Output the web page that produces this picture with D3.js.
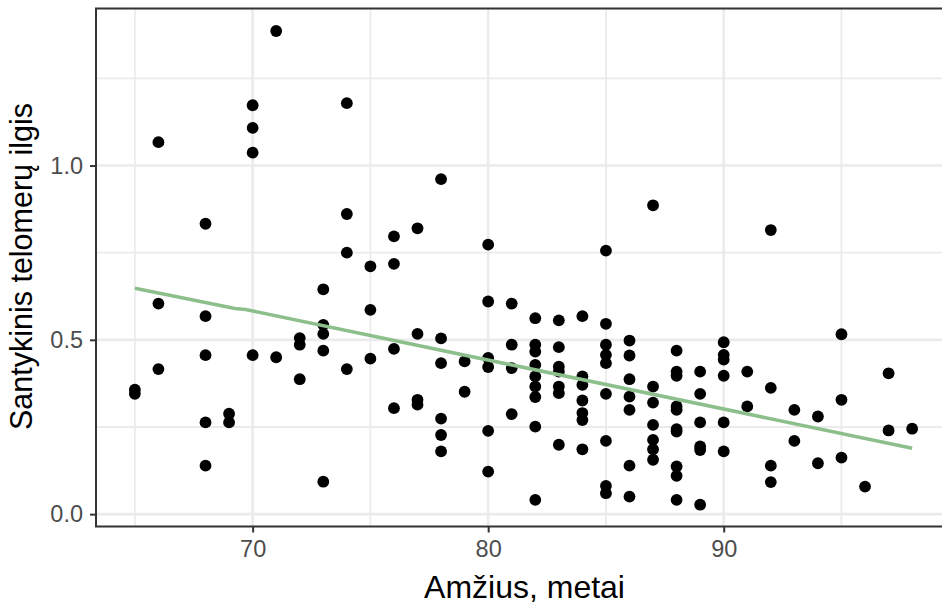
<!DOCTYPE html>
<html>
<head>
<meta charset="utf-8">
<script src="https://cdn.jsdelivr.net/npm/d3@7"></script>
<style>
  html, body { margin: 0; padding: 0; background: #fff; }
  svg { display: block; }
</style>
</head>
<body>
<svg id="chart" width="942" height="606"></svg>
<script>
// ---- data ----
const ages = [65, 66, 68, 69, 70, 71, 72, 73, 74, 75, 76, 77, 78, 79, 80, 81, 82, 83, 84, 85, 86, 87, 88, 89, 90, 91, 92, 93, 94, 95, 96, 97, 98];
const lengthsByAge = [
  [0.357, 0.345],
  [1.067, 0.604, 0.416],
  [0.833, 0.568, 0.456, 0.263, 0.139],
  [0.288, 0.263],
  [1.173, 1.108, 1.037, 0.456],
  [1.386, 0.450],
  [0.505, 0.486, 0.387],
  [0.645, 0.543, 0.517, 0.469, 0.093],
  [1.179, 0.861, 0.750, 0.416],
  [0.711, 0.586, 0.446],
  [0.797, 0.718, 0.474, 0.304],
  [0.820, 0.517, 0.328, 0.314],
  [0.961, 0.504, 0.433, 0.274, 0.227, 0.180],
  [0.438, 0.351],
  [0.773, 0.610, 0.448, 0.422, 0.239, 0.122],
  [0.604, 0.486, 0.419, 0.287],
  [0.562, 0.486, 0.466, 0.428, 0.395, 0.366, 0.336, 0.251, 0.041],
  [0.556, 0.479, 0.423, 0.409, 0.366, 0.347, 0.199],
  [0.568, 0.395, 0.371, 0.326, 0.290, 0.270, 0.186],
  [0.756, 0.546, 0.486, 0.457, 0.433, 0.345, 0.210, 0.081, 0.060],
  [0.498, 0.455, 0.387, 0.337, 0.299, 0.139, 0.050],
  [0.886, 0.366, 0.320, 0.256, 0.213, 0.186, 0.156],
  [0.469, 0.409, 0.397, 0.309, 0.299, 0.244, 0.237, 0.137, 0.110, 0.041],
  [0.409, 0.345, 0.263, 0.194, 0.184, 0.027],
  [0.493, 0.457, 0.443, 0.397, 0.263, 0.180],
  [0.409, 0.309],
  [0.815, 0.362, 0.139, 0.092],
  [0.299, 0.210],
  [0.280, 0.146],
  [0.516, 0.328, 0.162],
  [0.079],
  [0.404, 0.240],
  [0.245]
];
const smoothAge = [65, 69.25, 69.7, 98];
const smoothVal = [0.648, 0.590, 0.587, 0.189];
const xMajorTicks = [70, 80, 90];
const xMinorTicks = [65, 75, 85, 95];
const yMajorTicks = [0.0, 0.5, 1.0];
const yMinorTicks = [0.25, 0.75, 1.25];
const xTitle = "Amžius, metai";
const yTitle = "Santykinis telomerų ilgis";

// ---- layout ----
const panel = { left: 96, right: 951, top: 8.5, bottom: 526.5 };
const x = d3.scaleLinear().domain([63.35, 99.65]).range([panel.left, panel.right]);
const y = d3.scaleLinear().domain([-0.0355, 1.4505]).range([panel.bottom, panel.top]);

const points = [];
ages.forEach((a, i) => lengthsByAge[i].forEach(v => points.push({ age: a, val: v })));
const smooth = smoothAge.map((a, i) => ({ age: a, val: smoothVal[i] }));

const svg = d3.select("#chart");
svg.append("rect").attr("width", 942).attr("height", 606).attr("fill", "#fff");

svg.append("defs").append("clipPath").attr("id", "clip")
  .append("rect").attr("x", panel.left).attr("y", panel.top)
  .attr("width", panel.right - panel.left).attr("height", panel.bottom - panel.top);

const g = svg.append("g").attr("clip-path", "url(#clip)");

// grid
g.selectAll(".xminor").data(xMinorTicks).join("line")
  .attr("x1", d => x(d)).attr("x2", d => x(d)).attr("y1", panel.top).attr("y2", panel.bottom)
  .attr("stroke", "#ebebeb").attr("stroke-width", 1.8);
g.selectAll(".yminor").data(yMinorTicks).join("line")
  .attr("y1", d => y(d)).attr("y2", d => y(d)).attr("x1", panel.left).attr("x2", panel.right)
  .attr("stroke", "#ebebeb").attr("stroke-width", 1.8);
g.selectAll(".xmajor").data(xMajorTicks).join("line")
  .attr("x1", d => x(d)).attr("x2", d => x(d)).attr("y1", panel.top).attr("y2", panel.bottom)
  .attr("stroke", "#ebebeb").attr("stroke-width", 2.6);
g.selectAll(".ymajor").data(yMajorTicks).join("line")
  .attr("y1", d => y(d)).attr("y2", d => y(d)).attr("x1", panel.left).attr("x2", panel.right)
  .attr("stroke", "#ebebeb").attr("stroke-width", 2.6);

// points
g.selectAll("circle").data(points).join("circle")
  .attr("cx", d => x(d.age)).attr("cy", d => y(d.val)).attr("r", 5.9)
  .attr("fill", "#000");

// smooth line
g.append("path").datum(smooth)
  .attr("d", d3.line().x(d => x(d.age)).y(d => y(d.val)))
  .attr("fill", "none").attr("stroke", "#8cbf8c").attr("stroke-width", 3.6);

// panel border
svg.append("rect").attr("x", panel.left).attr("y", panel.top)
  .attr("width", panel.right - panel.left).attr("height", panel.bottom - panel.top)
  .attr("fill", "none").attr("stroke", "#333333").attr("stroke-width", 2);

// axes
const font = "'Liberation Sans', Arial, sans-serif";
const xAxis = d3.axisBottom(x).tickValues(xMajorTicks).tickSize(6).tickPadding(8).tickFormat(d3.format("d"));
const yAxis = d3.axisLeft(y).tickValues(yMajorTicks).tickSize(6).tickPadding(7).tickFormat(d3.format(".1f"));

const gx = svg.append("g").attr("transform", `translate(0,${panel.bottom})`).call(xAxis);
const gy = svg.append("g").attr("transform", `translate(${panel.left},0)`).call(yAxis);
[gx, gy].forEach(ax => {
  ax.select(".domain").remove();
  ax.selectAll(".tick line").attr("stroke", "#333333").attr("stroke-width", 2);
  ax.selectAll(".tick text").attr("fill", "#4d4d4d").style("font-family", font).style("font-size", "23.5px");
});

// titles
svg.append("text").attr("x", (panel.left + panel.right) / 2 + 1).attr("y", 598)
  .attr("text-anchor", "middle").style("font-family", font).style("font-size", "32px")
  .attr("fill", "#000").text(xTitle);
svg.append("text").attr("transform", `translate(32,${(panel.top + panel.bottom) / 2 - 1}) rotate(-90)`)
  .attr("text-anchor", "middle").style("font-family", font).style("font-size", "30.5px")
  .attr("fill", "#000").text(yTitle);
</script>
</body>
</html>
